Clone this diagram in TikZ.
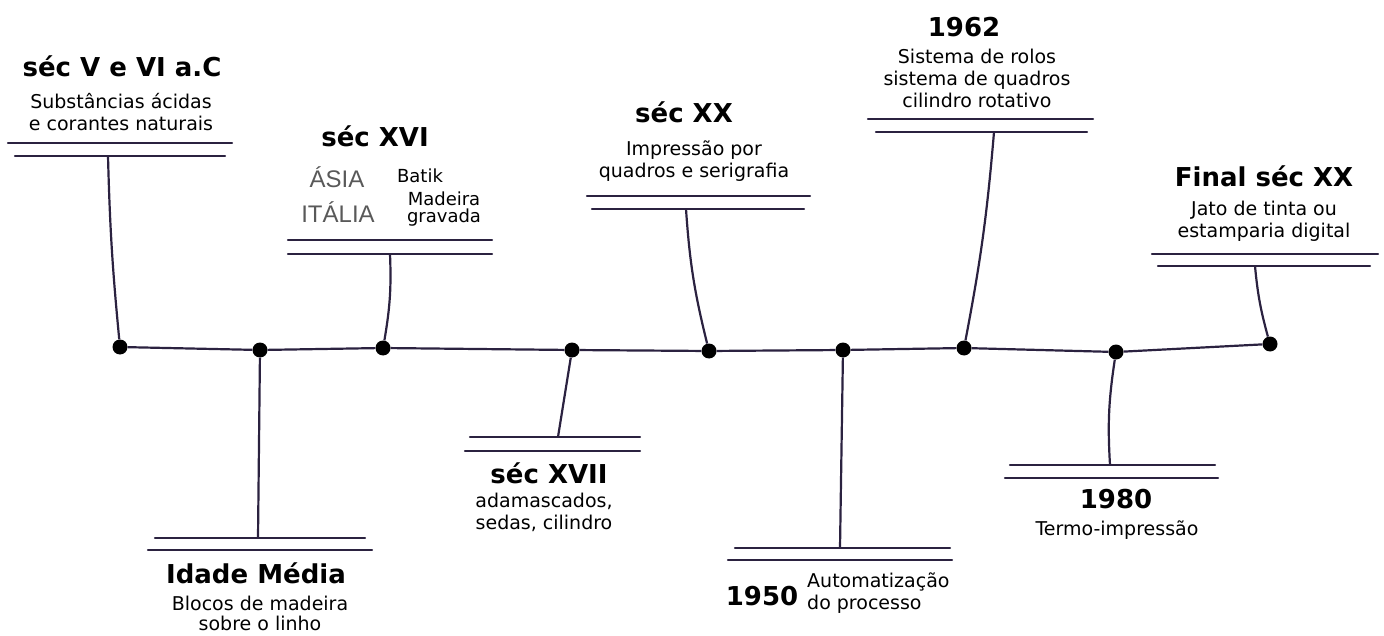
\documentclass[tikz,border=0pt]{standalone}
\usepackage{fontspec}
\setmainfont{DejaVu Sans}
\newfontfamily\thinfont{Liberation Sans}
\usetikzlibrary{positioning}
\definecolor{ink}{HTML}{2B2240}

\begin{document}
\begin{tikzpicture}[
  x=1pt, y=-1pt,
  dot/.style={circle, fill=black, inner sep=0pt, minimum size=15pt},
  head/.style={inner sep=0pt, anchor=base, font=\fontsize{26}{28}\selectfont\bfseries},
  desc/.style={inner sep=0pt, anchor=north, align=center, font=\fontsize{19}{22}\selectfont},
  small/.style={inner sep=0pt, anchor=north, align=center, font=\fontsize{18}{17}\selectfont},
  region/.style={inner sep=0pt, anchor=base, text=black!65, font=\thinfont\fontsize{24}{26}\selectfont},
  bar/.style={draw=ink, line width=2.2pt, line cap=round},
  stem/.style={draw=ink, line width=2.2pt},
  axis/.style={draw=ink, line width=2.2pt}
]
\useasboundingbox (0,0) rectangle (1384,636);

% dots on the time axis
\node[dot] (d1) at (120,347) {};
\node[dot] (d2) at (260,350) {};
\node[dot] (d3) at (383,348) {};
\node[dot] (d4) at (572,350) {};
\node[dot] (d5) at (709,351) {};
\node[dot] (d6) at (843,350) {};
\node[dot] (d7) at (964,348) {};
\node[dot] (d8) at (1116,352) {};
\node[dot] (d9) at (1270,344) {};
\draw[axis] (d1) -- (d2) -- (d3) -- (d4) -- (d5) -- (d6) -- (d7) -- (d8) -- (d9);

% double bars
\draw[bar] (8,143) -- (232,143); \draw[bar] (15,156) -- (225,156);
\draw[bar] (155,538) -- (365,538); \draw[bar] (148,550) -- (372,550);
\draw[bar] (288,240) -- (492,240); \draw[bar] (288,254) -- (492,254);
\draw[bar] (470,437) -- (640,437); \draw[bar] (465,451) -- (640,451);
\draw[bar] (587,196) -- (810,196); \draw[bar] (592,209) -- (804,209);
\draw[bar] (735,548) -- (950,548); \draw[bar] (728,560) -- (952,560);
\draw[bar] (868,119) -- (1093,119); \draw[bar] (876,132) -- (1087,132);
\draw[bar] (1010,465) -- (1215,465); \draw[bar] (1005,478) -- (1218,478);
\draw[bar] (1152,254) -- (1378,254); \draw[bar] (1158,266) -- (1370,266);

% stems
\coordinate (s1) at (108,156);
\coordinate (s2) at (258,538);
\coordinate (s3) at (390,254);
\coordinate (s4) at (558,437);
\coordinate (s5) at (686,209);
\coordinate (s6) at (840,548);
\coordinate (s7) at (994,132);
\coordinate (s8) at (1110,465);
\coordinate (s9) at (1255,266);
\draw[stem] (s1) to[bend right=2] (d1);
\draw[stem] (s2) -- (d2);
\draw[stem] (s3) to[bend left=6] (d3);
\draw[stem] (s4) -- (d4);
\draw[stem] (s5) to[bend right=5] (d5);
\draw[stem] (s6) -- (d6);
\draw[stem] (s7) to[bend left=3] (d7);
\draw[stem] (s8) to[bend left=6] (d8);
\draw[stem] (s9) to[bend right=5] (d9);

% labels
\node[head] (h1) at (122,77) {séc V e VI a.C};
\node[desc] (t1) at (121,93) {Substâncias ácidas\\e corantes naturais};
\node[head] (h2) at (256,583) {Idade Média};
\node[desc, font=\fontsize{19}{20}\selectfont] (t2) at (260,596) {Blocos de madeira\\sobre o linho};
\node[head] (h3) at (375,147) {séc XVI};
\node[region] (asia) at (337,188) {ÁSIA};
\node[region] (italia) at (338,223) {ITÁLIA};
\node[small] (t3a) at (420,169) {Batik};
\node[small] (t3b) at (444,192) {Madeira\\gravada};
\node[head] (h4) at (549,483) {séc XVII};
\node[desc] (t4) at (544,493) {adamascados,\\sedas, cilindro};
\node[head] (h5) at (684,123) {séc XX};
\node[desc] (t5) at (694,141) {Impressão por\\quadros e serigrafia};
\node[head] (h6) at (762,605) {1950};
\node[desc, anchor=north west, align=left] (t6) at (807,573) {Automatização\\do processo};
\node[head] (h7) at (964,37) {1962};
\node[desc] (t7) at (977,49) {Sistema de rolos\\sistema de quadros\\cilindro rotativo};
\node[head] (h8) at (1116,508) {1980};
\node[desc] (t8) at (1117,521) {Termo-impressão};
\node[head] (h9) at (1264,187) {Final séc XX};
\node[desc] (t9) at (1264,201) {Jato de tinta ou\\estamparia digital};
\end{tikzpicture}
\end{document}
